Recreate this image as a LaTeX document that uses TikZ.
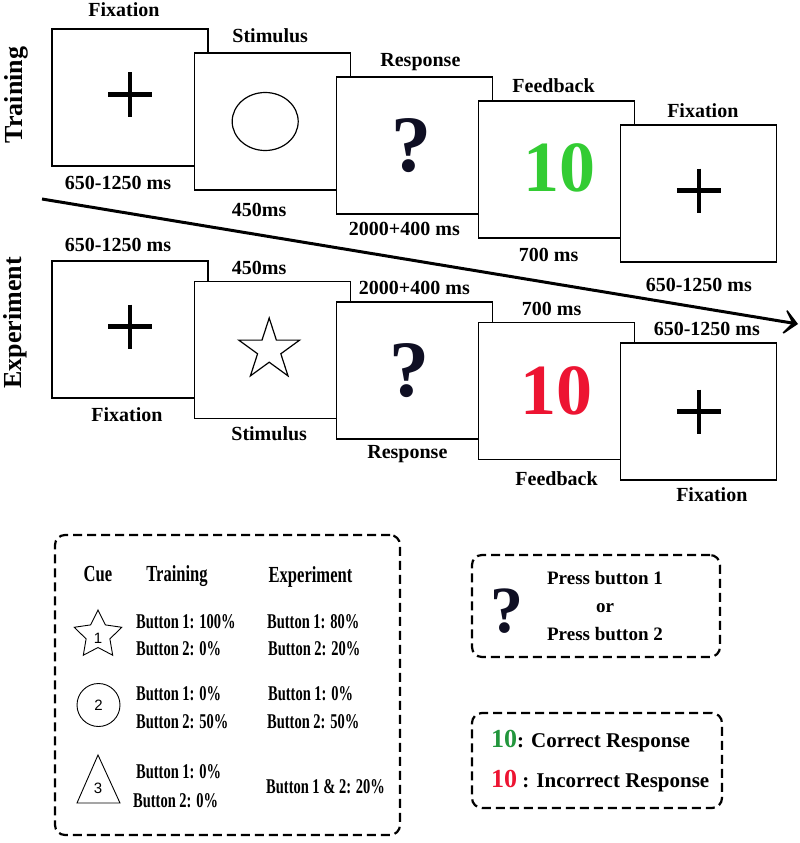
\documentclass[tikz,border=0pt]{standalone}
\usepackage{fontspec}
\setmainfont{Liberation Serif}
\newfontfamily\narrowfont[FakeStretch=0.69]{Liberation Serif}
\newfontfamily\headfont[FakeStretch=0.72]{Liberation Serif}
\newfontfamily\numfont{Liberation Sans}
\usetikzlibrary{positioning, shapes.geometric, arrows.meta}

\definecolor{scrgreen}{RGB}{51,204,51}
\definecolor{okgreen}{RGB}{34,150,60}
\definecolor{badred}{RGB}{237,20,50}
\definecolor{inkdark}{RGB}{15,15,35}

\tikzset{
    screen/.style={draw, fill=white, line width=1.2pt, minimum width=156pt, minimum height=137pt, inner sep=0pt},
    tlabel/.style={font=\fontsize{20}{24}\selectfont\bfseries, inner sep=0pt, text height=14pt, text depth=4pt},
    rowlabel/.style={rotate=90, font=\fontsize{26}{30}\selectfont\bfseries, inner sep=0pt},
    cross/.style={line width=4.5pt},
    bigmark/.style={font=\fontsize{80}{80}\selectfont\bfseries, inner sep=0pt},
    dashbox/.style={draw, line width=2.2pt, dash pattern=on 9pt off 5pt, rounded corners=10pt, inner sep=0pt},
    colhead/.style={font=\headfont\bfseries\fontsize{23}{26}\selectfont, inner sep=0pt, anchor=base},
    btn/.style={font=\narrowfont\bfseries\fontsize{21}{24}\selectfont, inner sep=0pt, anchor=base west},
    cuenum/.style={font=\numfont\fontsize{15}{15}\selectfont, inner sep=0pt},
    timeline/.style={line width=3pt, -{Stealth[length=18pt, width=34pt, inset=12pt]}}
}

\begin{document}
\begin{tikzpicture}[x=1pt, y=-1pt]
    \useasboundingbox (0,0) rectangle (800,843);

    \node[rowlabel] (trainlbl) at (16,95) {Training};
    \node[rowlabel] (explbl) at (15,323) {Experiment};

    \node[screen] (tfix1) at (130,97.5) {};
    \node[screen, right=-15pt of tfix1, yshift=-24pt] (tstim) {};
    \node[screen, right=-15pt of tstim, yshift=-24pt] (tresp) {};
    \node[screen, right=-15pt of tresp, yshift=-24pt] (tfeed) {};
    \node[screen, right=-15pt of tfeed, yshift=-24pt] (tfix2) {};

    \draw[cross] ([yshift=3pt]tfix1.center) +(-22,0) -- +(22,0) +(0,-22) -- +(0,22);
    \node[draw, ellipse, line width=1.2pt, minimum width=66pt, minimum height=58pt] (tcue) at ([xshift=-7pt]tstim.center) {};
    \node[bigmark, text=inkdark] (tq) at ([xshift=-3pt]tresp.center) {?};
    \node[bigmark, font=\fontsize{72}{72}\selectfont\bfseries, text=scrgreen] (tten) at ([xshift=3pt, yshift=2pt]tfeed.center) {10};
    \draw[cross] ([yshift=3pt]tfix2.center) +(-22,0) -- +(22,0) +(0,-22) -- +(0,22);

    \node[tlabel, above=8pt of tfix1, xshift=-6pt] (tn1) {Fixation};
    \node[tlabel, above=6pt of tstim, xshift=-2pt] (tn2) {Stimulus};
    \node[tlabel, above=6pt of tresp, xshift=6pt] (tn3) {Response};
    \node[tlabel, above=4pt of tfeed, xshift=-3pt] (tn4) {Feedback};
    \node[tlabel, above=3pt of tfix2, xshift=4pt] (tn5) {Fixation};

    \node[tlabel, below=9pt of tfix1, xshift=-12pt] (tt1) {650-1250 ms};
    \node[tlabel, below=12pt of tstim, xshift=-13pt] (tt2) {450ms};
    \node[tlabel, below=7pt of tresp, xshift=-10pt] (tt3) {2000+400 ms};
    \node[tlabel, below=9pt of tfeed, xshift=-8pt] (tt4) {700 ms};
    \node[tlabel, below=15pt of tfix2] (tt5) {650-1250 ms};

    \node[screen] (efix1) at (130,329.5) {};
    \node[screen, right=-15pt of efix1, yshift=-20.5pt] (estim) {};
    \node[screen, right=-15pt of estim, yshift=-20.5pt] (eresp) {};
    \node[screen, right=-15pt of eresp, yshift=-20.5pt] (efeed) {};
    \node[screen, right=-15pt of efeed, yshift=-20.5pt] (efix2) {};

    \draw[cross] ([yshift=3pt]efix1.center) +(-22,0) -- +(22,0) +(0,-22) -- +(0,22);
    \node[draw, star, star points=5, star point ratio=2.618, line width=1.2pt, minimum size=64pt, inner sep=0pt] (ecue) at ([xshift=-3pt]estim.center) {};
    \node[bigmark, text=inkdark] (eq) at ([xshift=-5pt]eresp.center) {?};
    \node[bigmark, font=\fontsize{72}{72}\selectfont\bfseries, text=badred] (eten) at (efeed.center) {10};
    \draw[cross] (efix2.center) +(-22,0) -- +(22,0) +(0,-22) -- +(0,22);

    \node[tlabel, above=5pt of efix1, xshift=-12pt] (et1) {650-1250 ms};
    \node[tlabel, above=2pt of estim, xshift=-13pt] (et2) {450ms};
    \node[tlabel, above=3pt of eresp] (et3) {2000+400 ms};
    \node[tlabel, above=2pt of efeed, xshift=-5pt] (et4) {700 ms};
    \node[tlabel, above=3pt of efix2, xshift=8pt] (et5) {650-1250 ms};

    \node[tlabel, below=9pt of efix1, xshift=-3pt] (en1) {Fixation};
    \node[tlabel, below=7pt of estim, xshift=-3pt] (en2) {Stimulus};
    \node[tlabel, below=5pt of eresp, xshift=-7pt] (en3) {Response};
    \node[tlabel, below=11pt of efeed] (en4) {Feedback};
    \node[tlabel, below=7pt of efix2, xshift=13pt] (en5) {Fixation};

    \coordinate (tstart) at (42,199);
    \coordinate (tend) at (798,324);
    \draw[timeline] (tstart) -- (tend);

    \node[dashbox, minimum width=345pt, minimum height=300pt] (cuebox) at (227.5,685) {};
    \node[colhead] (hcue) at (98,581) {Cue};
    \node[colhead] (htrain) at (177,581) {Training};
    \node[colhead] (hexp) at (310.5,582) {Experiment};

    \node[draw, star, star points=5, star point ratio=2.0, line width=0.9pt, minimum size=50pt, inner sep=0pt] (cue1) at (98,635) {};
    \node[cuenum] (n1) at ([yshift=-3pt]cue1.center) {1};
    \node[draw, circle, line width=0.9pt, minimum size=43pt, cuenum] (cue2) at (98.5,705) {2};
    \draw[line width=0.9pt] (98,755) -- (120,803) -- (77,803) -- cycle;
    \node[cuenum] (cue3) at (98,788) {3};

    \node[btn] (b11) at (136,628) {Button 1: 100\%};
    \node[btn] (b12) at (136,655) {Button 2: 0\%};
    \node[btn] (b21) at (136,700) {Button 1: 0\%};
    \node[btn] (b22) at (136,728) {Button 2: 50\%};
    \node[btn] (b31) at (136,778) {Button 1: 0\%};
    \node[btn] (b32) at (133,807) {Button 2: 0\%};

    \node[btn] (x11) at (267,628) {Button 1: 80\%};
    \node[btn] (x12) at (268,655) {Button 2: 20\%};
    \node[btn] (x21) at (268,700) {Button 1: 0\%};
    \node[btn] (x22) at (267,728) {Button 2: 50\%};
    \node[btn] (x3) at (266,793) {Button 1 \& 2: 20\%};

    \node[dashbox, minimum width=248pt, minimum height=102pt] (pressbox) at (596,606) {};
    \node[bigmark, font=\fontsize{66}{66}\selectfont\bfseries, text=inkdark] (pq) at (507,611) {?};
    \node[font=\fontsize{19}{28}\selectfont\bfseries, align=center, inner sep=0pt] (ptext) at (605,606) {Press button 1\\or\\Press button 2};

    \node[dashbox, minimum width=250pt, minimum height=95pt] (resbox) at (597,760.5) {};
    \node[font=\fontsize{21}{24}\selectfont\bfseries, anchor=base west, inner sep=0pt] (rok) at (491,747) {{\fontsize{26}{26}\selectfont\color{okgreen}10}: Correct Response};
    \node[font=\fontsize{21}{24}\selectfont\bfseries, anchor=base west, inner sep=0pt] (rbad) at (491,787) {{\fontsize{26}{26}\selectfont\color{badred}10} : Incorrect Response};
\end{tikzpicture}
\end{document}
